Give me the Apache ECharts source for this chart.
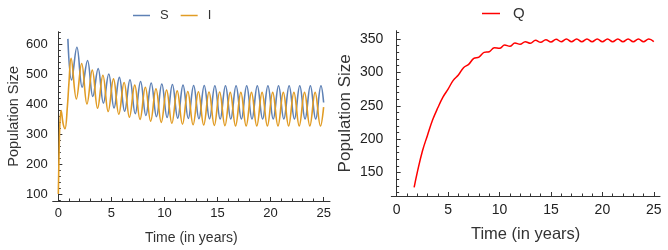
<!DOCTYPE html>
<html>
<head>
<meta charset="utf-8">
<script src="https://cdn.jsdelivr.net/npm/echarts@6/dist/echarts.min.js"></script>
<style>
  html, body { margin: 0; padding: 0; background: #fff; }
  #main { width: 668px; height: 250px; }
</style>
</head>
<body>
<div id="main"></div>
<script>
// ---- data ----
var xTicks = [0, 5, 10, 15, 20, 25];
var leftYTicks = [100, 200, 300, 400, 500, 600];
var rightYTicks = [150, 200, 250, 300, 350];

// S: starts at t=0.9, then trough/peak every half year, last point t=25
var sValues = [617,
  480, 589, 456, 545, 425, 518, 403, 500, 387, 489, 376, 481,
  368, 475, 362, 470, 358, 467, 355, 465, 353, 463, 352, 462,
  351, 462, 351, 461, 350, 461, 350, 461, 350, 461, 350, 461,
  350, 461, 350, 461, 350, 461, 350, 461, 350, 461, 350, 461,
  405];

// I: early transient, then peak/trough every half year, last point t=25
var iEarlyTimes = [0, 0.08, 0.16, 0.26, 0.45, 0.63, 0.85, 1.0];
var iValues = [100, 250, 345, 378, 335, 318, 390, 470,
  552, 417, 535, 400, 513, 386, 496, 375, 484, 366, 472, 356,
  463, 349, 456, 343, 451, 339, 447, 336, 444, 333, 442, 331,
  441, 330, 440, 329, 440, 328, 439, 327, 439, 327, 439, 327,
  439, 327, 439, 327, 439, 327, 439, 327, 439, 327, 439, 327,
  390];

// Q: starts at t=1.7, then every half year from 2 to 25
var qValues = [128,
  150, 182, 206, 229, 247, 263, 275, 288, 296, 307,
  312, 321, 323, 330, 331, 337, 336, 341, 339, 344,
  342, 346, 343.5, 348, 345, 349, 345.5, 349.5, 346, 350,
  346, 350, 346, 350, 346, 350, 346, 350, 346, 350,
  346, 350, 346, 350, 346, 350, 346];

// ---- time grids ----
var sTimes = [0.9];
for (var k = 1; k <= 24; k++) { sTimes.push(k + 0.25, k + 0.75); }
sTimes.push(25);
var iTimes = iEarlyTimes.slice();
for (var k = 1; k <= 24; k++) { iTimes.push(k + 0.2, k + 0.7); }
iTimes.push(25);
var qTimes = [1.7];
for (var t = 2; t <= 25; t += 0.5) { qTimes.push(t); }

function pairs(ts, vs) { return ts.map(function (t, i) { return [t, vs[i]]; }); }
function minors(majors, steps) {
  var out = [];
  var d = (majors[1] - majors[0]) / steps;
  var first = majors[0] - d * steps;
  for (var v = first; v <= majors[majors.length - 1] + d * steps; v += d) {
    var isMajor = majors.some(function (m) { return Math.abs(m - v) < 1e-6; });
    if (!isMajor) out.push(Math.round(v * 1000) / 1000);
  }
  return out;
}

var FONT = 'Liberation Sans, Arial, sans-serif';
var AX = '#333';

function majorAxis(gridIndex, min, max, ticks, labelSize, name, nameSize, nameGap, pos, margin) {
  return {
    type: 'value', gridIndex: gridIndex, min: min, max: max, position: pos,
    axisLine: { show: true, lineStyle: { color: AX, width: 1 } },
    axisTick: { show: true, inside: true, length: 4, customValues: ticks, lineStyle: { color: AX } },
    axisLabel: { customValues: ticks, color: '#222', fontSize: labelSize, fontFamily: FONT, margin: margin },
    splitLine: { show: false },
    name: name, nameLocation: 'middle', nameGap: nameGap,
    nameTextStyle: { color: '#333', fontSize: nameSize, fontFamily: FONT }
  };
}
function minorAxis(gridIndex, min, max, ticks, pos) {
  return {
    type: 'value', gridIndex: gridIndex, min: min, max: max, position: pos,
    axisLine: { show: false },
    axisTick: { show: true, inside: true, length: 2.5, customValues: ticks, lineStyle: { color: AX } },
    axisLabel: { show: false },
    splitLine: { show: false }
  };
}

var xMinor = minors(xTicks, 5).filter(function (v) { return v >= 0 && v <= 25; });
var lyMinor = minors(leftYTicks, 5).filter(function (v) { return v >= 80 && v <= 640; });
var ryMinor = minors(rightYTicks, 5).filter(function (v) { return v >= 116 && v <= 362; });

var myChart = echarts.init(document.getElementById('main'));
var option = {
  animation: false,
  textStyle: { fontFamily: FONT },
  legend: [
    { data: ['S', 'I'], left: 128, top: 4, icon: 'rect', itemWidth: 17, itemHeight: 1.5, itemGap: 12,
      textStyle: { fontSize: 13, color: '#333', fontFamily: FONT, padding: [0, 0, 0, 5] } },
    { data: ['Q'], left: 477, top: 1, icon: 'rect', itemWidth: 18, itemHeight: 1.5,
      textStyle: { fontSize: 15, color: '#333', fontFamily: FONT, padding: [0, 0, 0, 8] } }
  ],
  grid: [
    { left: 52.7, top: 31.7, width: 277.3, height: 169.6 },
    { left: 391.3, top: 30.7, width: 268.7, height: 165.3 }
  ],
  xAxis: [
    majorAxis(0, -0.53, 25.6, xTicks, 13, 'Time (in years)', 14, 30, 'bottom', 6),
    minorAxis(0, -0.53, 25.6, xMinor, 'bottom'),
    majorAxis(1, -0.52, 25.6, xTicks, 14, 'Time (in years)', 16.5, 30, 'bottom', 7),
    minorAxis(1, -0.52, 25.6, xMinor, 'bottom')
  ],
  yAxis: [
    majorAxis(0, 77, 641, leftYTicks, 13, 'Population Size', 14.5, 31, 'left', 5),
    minorAxis(0, 77, 641, lyMinor, 'left'),
    majorAxis(1, 115, 362.4, rightYTicks, 14, 'Population Size', 17, 37, 'left', 8),
    minorAxis(1, 115, 362.4, ryMinor, 'left')
  ],
  series: [
    { name: 'S', type: 'line', xAxisIndex: 0, yAxisIndex: 0, data: pairs(sTimes, sValues),
      showSymbol: false, smooth: 0.4, lineStyle: { color: '#5E81B5', width: 1.6 }, itemStyle: { color: '#5E81B5' } },
    { name: 'I', type: 'line', xAxisIndex: 0, yAxisIndex: 0, data: pairs(iTimes, iValues),
      showSymbol: false, smooth: 0.4, lineStyle: { color: '#E19C24', width: 1.6 }, itemStyle: { color: '#E19C24' } },
    { name: 'Q', type: 'line', xAxisIndex: 2, yAxisIndex: 2, data: pairs(qTimes, qValues),
      showSymbol: false, smooth: 0.4, lineStyle: { color: '#FF0000', width: 1.5 }, itemStyle: { color: '#FF0000' } }
  ]
};
option && myChart.setOption(option);
</script>
</body>
</html>
